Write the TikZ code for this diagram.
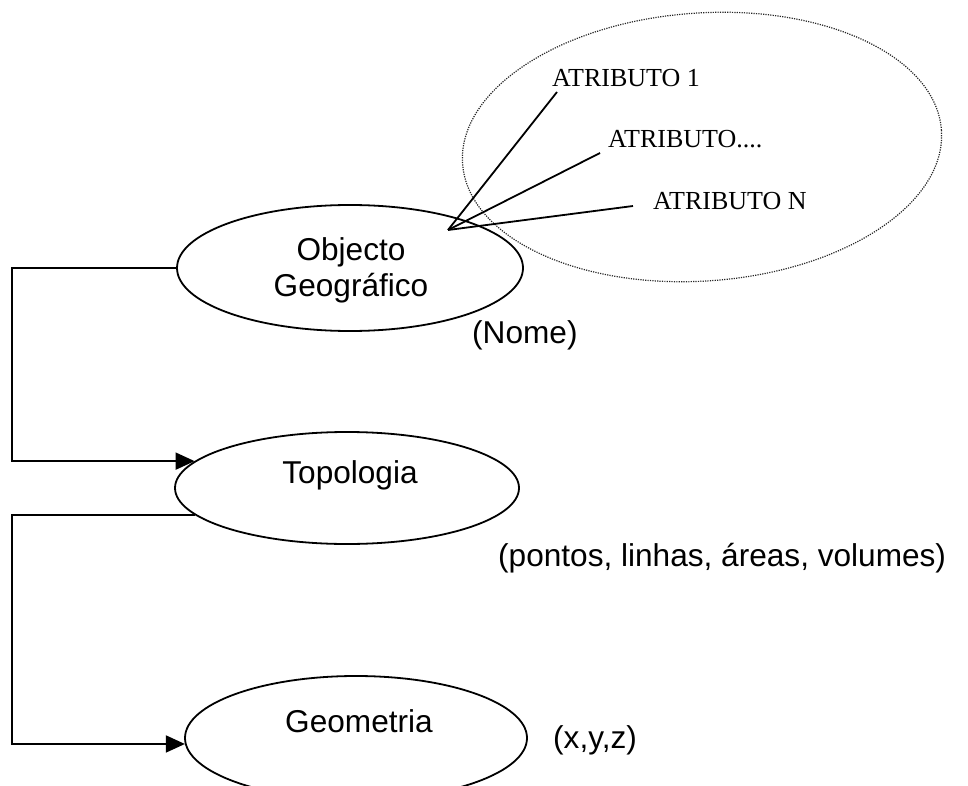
\documentclass[tikz,border=0pt]{standalone}
\usepackage{fontspec}
\setmainfont{Liberation Serif}
\setsansfont{Liberation Sans}
\usetikzlibrary{shapes.geometric,arrows.meta}

\begin{document}
\begin{tikzpicture}[x=1pt,y=-1pt,
  entity/.style={draw, ellipse, line width=1.8pt, inner sep=0pt},
  lbl/.style={font=\sffamily\fontsize{31.6}{36}\selectfont, anchor=base, inner sep=0pt},
  note/.style={lbl, anchor=base west},
  attr/.style={font=\rmfamily\fontsize{26}{30}\selectfont, anchor=base west, inner sep=0pt},
  link/.style={line width=1.8pt},
  flow/.style={link, -{Triangle[length=19pt,width=17pt]}},
  group/.style={draw=black!85, ellipse, line width=1.2pt, dash pattern=on 1.2pt off 1.2pt, inner sep=0pt}
]
\useasboundingbox (0,0) rectangle (968,786);

% attribute group
\node[group, minimum width=480pt, minimum height=268pt, rotate=4] (grp) at (702,147) {};

% main entities
\node[entity, minimum width=346pt, minimum height=126pt] (O) at (350,268) {};
\node[entity, minimum width=344pt, minimum height=112pt] (T) at (347,488) {};
\node[entity, minimum width=342pt, minimum height=124pt] (G) at (356,738) {};

\node[lbl] (O1) at (351,260) {Objecto};
\node[lbl] (O2) at (351,296) {Geográfico};
\node[lbl] (Tl) at (350,483) {Topologia};
\node[lbl] (Gl) at (359,732) {Geometria};

% side notes
\node[note] (nome) at (472,343) {(Nome)};
\node[note] (prim) at (498,566) {(pontos, linhas, áreas, volumes)};
\node[note] (xyz)  at (553,748) {(x,y,z)};

% attributes
\node[attr] (a1) at (552,87)  {ATRIBUTO 1};
\node[attr] (a2) at (608,148) {ATRIBUTO....};
\node[attr] (a3) at (653,210) {ATRIBUTO N};

\coordinate (hub) at (448,230);
\draw[link] (hub) -- ([xshift=5pt,yshift=-5pt]a1.base west);
\draw[link] (hub) -- ([xshift=-8pt,yshift=-5pt]a2.base west);
\draw[link] (hub) -- ([xshift=-20pt,yshift=4pt]a3.base west);

% hierarchy connectors
\coordinate (rail) at (12,0);
\draw[flow] (O.west) -- (O.west -| rail) |- (T.170);
\draw[flow] (T.190) -- (T.190 -| rail) |- (G.182);
\end{tikzpicture}
\end{document}
